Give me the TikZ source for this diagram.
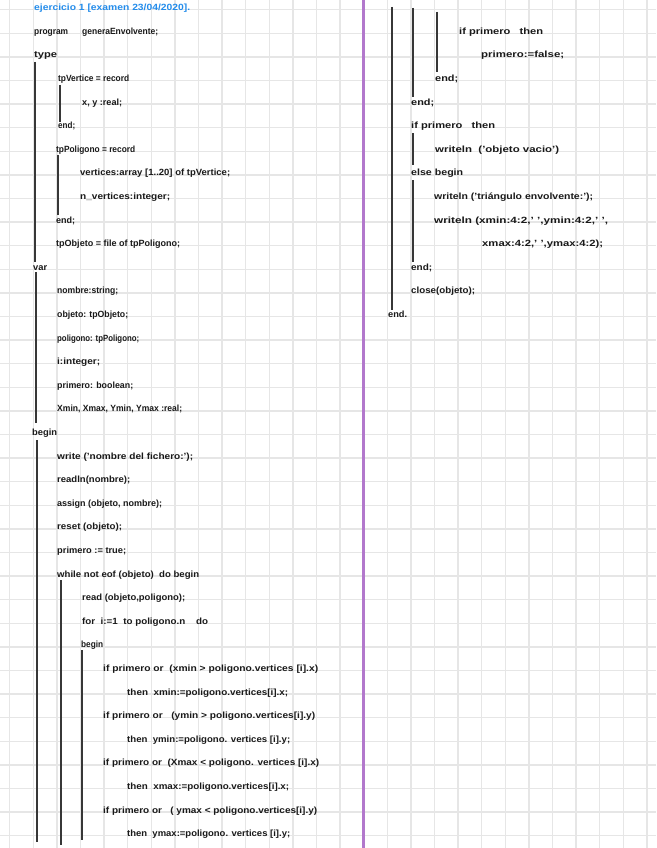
\documentclass[tikz,border=0pt]{standalone}
\usepackage{graphicx}
\usepackage{fontspec}
\setmainfont{Liberation Sans}
\definecolor{gridc}{RGB}{230,230,230}
\definecolor{purp}{RGB}{178,120,204}
\definecolor{titleblue}{RGB}{35,140,235}
\definecolor{ink}{RGB}{25,25,25}
\definecolor{barc}{RGB}{55,55,55}
\newcommand\codefont{\fontsize{9}{10}\selectfont\bfseries}
\newsavebox\cbox
\newlength\cwidth
% #1 target width, #2 text
\newcommand\fitto[2]{%
  \sbox\cbox{\codefont #2}%
  \setlength\cwidth{\wd\cbox}%
  \pgfmathsetmacro\cscale{#1/\cwidth}%
  \scalebox{\cscale}[1]{\usebox\cbox}%
}
% #1 style, #2 name, #3 left x, #4 right x, #5 grid row, #6 text
\newcommand\codeline[6]{%
  \node[#1] (#2) at (#3,{9.7+23.6*#5+1}) {\fitto{(#4-#3)}{#6}};%
}
\tikzset{
  txt/.style={anchor=base west,inner sep=0pt,text=ink},
  ttl/.style={anchor=base west,inner sep=0pt,text=titleblue},
  gridline/.style={draw=gridc,line width=1.4pt},
  bar/.style={draw=barc,line width=1.8pt},
  margin/.style={draw=purp,line width=2.4pt}
}
\begin{document}
\begin{tikzpicture}[x=1pt,y=-1pt]
\useasboundingbox (0,0) rectangle (656,848);
\fill[white] (0,0) rectangle (656,848);
% grid
\foreach \k in {0,...,27} {\draw[gridline] ({9.7+23.6*\k},0) -- ({9.7+23.6*\k},848);}
\foreach \k in {0,...,35} {\draw[gridline] (0,{9.7+23.6*\k}) -- (656,{9.7+23.6*\k});}
% margin line
\draw[margin] (363.3,0) -- (363.3,848);
% left column
\codeline{ttl}{title}{34}{190}{0}{ejercicio 1 [examen 23/04/2020].}
\codeline{txt}{l1a}{34}{68}{1}{program}
\codeline{txt}{l1b}{82}{158}{1}{generaEnvolvente;}
\codeline{txt}{l2}{34}{57}{2}{type}
\codeline{txt}{l3}{58}{129}{3}{tpVertice = record}
\codeline{txt}{l4}{82}{122}{4}{x, y :real;}
\codeline{txt}{l5}{58}{75}{5}{end;}
\codeline{txt}{l6}{56}{135}{6}{tpPoligono = record}
\codeline{txt}{l7}{80}{230}{7}{vertices:array [1..20] of tpVertice;}
\codeline{txt}{l8}{80}{170}{8}{n\_vertices:integer;}
\codeline{txt}{l9}{56}{75}{9}{end;}
\codeline{txt}{l10}{56}{180}{10}{tpObjeto = file of tpPoligono;}
\codeline{txt}{l11}{33}{47}{11}{var}
\codeline{txt}{l12}{57}{118}{12}{nombre:string;}
\codeline{txt}{l13}{57}{128}{13}{objeto: tpObjeto;}
\codeline{txt}{l14}{57}{139}{14}{poligono: tpPoligono;}
\codeline{txt}{l15}{57}{100}{15}{i:integer;}
\codeline{txt}{l16}{57}{133}{16}{primero: boolean;}
\codeline{txt}{l17}{57}{182}{17}{Xmin, Xmax, Ymin, Ymax :real;}
\codeline{txt}{l18}{32}{57}{18}{begin}
\codeline{txt}{l19}{57}{193}{19}{write ('nombre del fichero:');}
\codeline{txt}{l20}{57}{130}{20}{readln(nombre);}
\codeline{txt}{l21}{57}{162}{21}{assign (objeto, nombre);}
\codeline{txt}{l22}{57}{122}{22}{reset (objeto);}
\codeline{txt}{l23}{57}{126}{23}{primero := true;}
\codeline{txt}{l24}{57}{199}{24}{while not eof (objeto) \ do begin}
\codeline{txt}{l25}{82}{185}{25}{read (objeto,poligono);}
\codeline{txt}{l26}{82}{208}{26}{for \ i:=1 \ to poligono.n \ \ \ do}
\codeline{txt}{l27}{81}{103}{27}{begin}
\codeline{txt}{l28}{103}{318}{28}{if primero or \ (xmin > poligono.vertices [i].x)}
\codeline{txt}{l29}{127}{288}{29}{then \ xmin:=poligono.vertices[i].x;}
\codeline{txt}{l30}{103}{315}{30}{if primero or \ \ (ymin > poligono.vertices[i].y)}
\codeline{txt}{l31}{127}{290}{31}{then \ ymin:=poligono. vertices [i].y;}
\codeline{txt}{l32}{103}{319}{32}{if primero or \ (Xmax < poligono. vertices [i].x)}
\codeline{txt}{l33}{127}{289}{33}{then \ xmax:=poligono.vertices[i].x;}
\codeline{txt}{l34}{103}{317}{34}{if primero or \ \ ( ymax < poligono.vertices[i].y)}
\codeline{txt}{l35}{127}{290}{35}{then \ ymax:=poligono. vertices [i].y;}
% right column
\codeline{txt}{r1}{459}{543}{1}{if primero \ \ then}
\codeline{txt}{r2}{481}{564}{2}{primero:=false;}
\codeline{txt}{r3}{435}{458}{3}{end;}
\codeline{txt}{r4}{411}{434}{4}{end;}
\codeline{txt}{r5}{411}{495}{5}{if primero \ \ then}
\codeline{txt}{r6}{435}{559}{6}{writeln \ ('objeto vacio')}
\codeline{txt}{r7}{411}{463}{7}{else begin}
\codeline{txt}{r8}{434}{593}{8}{writeln ('triángulo envolvente:');}
\codeline{txt}{r9}{434}{608}{9}{writeln (xmin:4:2,' ',ymin:4:2,' ',}
\codeline{txt}{r10}{482}{603}{10}{xmax:4:2,' ',ymax:4:2);}
\codeline{txt}{r11}{411}{432}{11}{end;}
\codeline{txt}{r12}{411}{475}{12}{close(objeto);}
\codeline{txt}{r13}{388}{407}{13}{end.}
% block bars, left
\draw[bar] (35,62) -- (35,262);
\draw[bar] (60,85) -- (60,122);
\draw[bar] (58,155) -- (58,215);
\draw[bar] (36,272) -- (36,423);
\draw[bar] (37,440) -- (37,842);
\draw[bar] (61,580) -- (61,845);
\draw[bar] (82,650) -- (82,840);
% block bars, right
\draw[bar] (391.7,7) -- (391.7,310);
\draw[bar] (413.3,8) -- (413.3,97);
\draw[bar] (436.7,12) -- (436.7,72);
\draw[bar] (413.3,133) -- (413.3,165);
\draw[bar] (413.3,180) -- (413.3,262);
\end{tikzpicture}
\end{document}
